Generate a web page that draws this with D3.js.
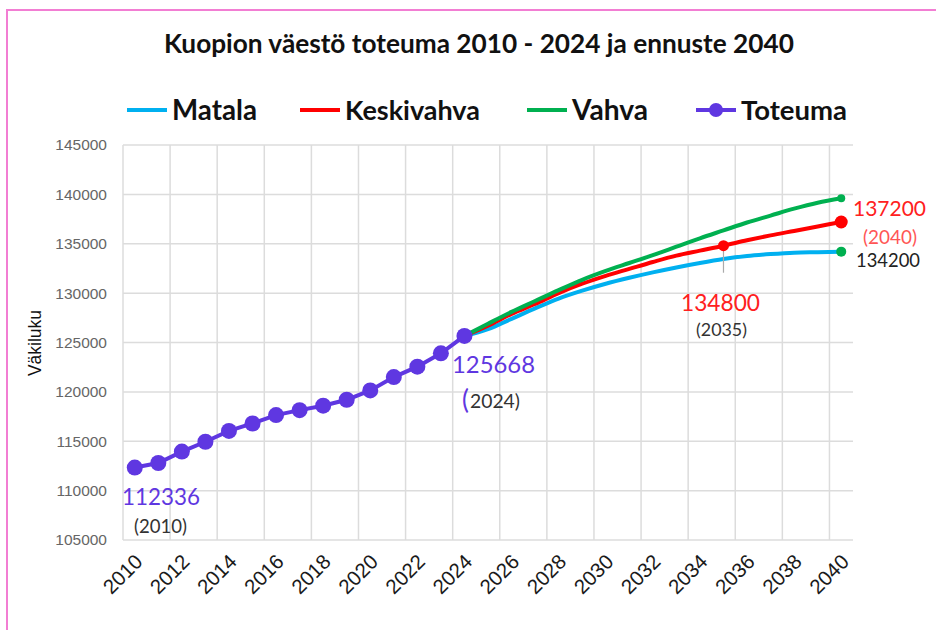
<!DOCTYPE html>
<html>
<head>
<meta charset="utf-8">
<script src="https://cdn.jsdelivr.net/npm/d3@7"></script>
<style>
  body { margin: 0; background: #fff; }
  svg { display: block; }
  text { font-family: "Liberation Sans", Arial, sans-serif; }
  .cal { font-family: Lato, "Open Sans", sans-serif; }
</style>
</head>
<body>
<svg id="chart" width="936" height="630"></svg>
<script>
// categories (Excel style category axis, one band per year)
var years = [2010,2011,2012,2013,2014,2015,2016,2017,2018,2019,2020,2021,2022,2023,2024,
             2025,2026,2027,2028,2029,2030,2031,2032,2033,2034,2035,2036,2037,2038,2039,2040];
var xTickYears = [2010,2012,2014,2016,2018,2020,2022,2024,2026,2028,2030,2032,2034,2036,2038,2040];
var yTicks = [105000,110000,115000,120000,125000,130000,135000,140000,145000];

// toteuma 2010 - 2024
var toteumaYears = [2010,2011,2012,2013,2014,2015,2016,2017,2018,2019,2020,2021,2022,2023,2024];
var toteuma = [112336,112800,113950,114950,116050,116800,117650,118150,118600,119200,120150,121500,122550,123900,125668];

// ennusteet 2024 - 2040
var ennusteYears = [2024,2025,2026,2027,2028,2029,2030,2031,2032,2033,2034,2035,2036,2037,2038,2039,2040];
var matala     = [125668,126350,127400,128450,129450,130250,130950,131550,132100,132600,133050,133450,133750,133950,134100,134150,134200];
var keskivahva = [125668,126700,127900,128900,130000,130950,131750,132450,133150,133800,134300,134800,135350,135850,136300,136750,137200];
var vahva      = [125668,126900,128100,129200,130300,131350,132250,133050,133850,134700,135550,136350,137150,137850,138550,139150,139600];

var colors = {Matala: "#00b0f0", Keskivahva: "#ff0000", Vahva: "#00b050", Toteuma: "#5f37e1"};

var svg = d3.select("#chart");

var x = d3.scaleBand().domain(years).range([123, 853]).padding(0);
var y = d3.scaleLinear().domain([105000, 145000]).range([540, 145]);
var cx = function(yr) { return x(yr) + x.bandwidth() / 2; };

// pink frame
svg.append("path")
  .attr("d", "M7,640V10H940")
  .attr("fill", "none")
  .attr("stroke", "#f27ed3")
  .attr("stroke-width", 2);

// fit a text to a given width by changing its font size
function fit(sel, w) {
  var fs = parseFloat(sel.attr("font-size"));
  var len = sel.node().getComputedTextLength();
  sel.attr("font-size", (fs * w / len).toFixed(2));
  return sel;
}

// title
fit(svg.append("text")
  .attr("class", "cal")
  .attr("x", 479).attr("y", 53)
  .attr("text-anchor", "middle")
  .attr("font-size", 22).attr("font-weight", "bold")
  .attr("fill", "#111")
  .text("Kuopion väestö toteuma 2010 - 2024 ja ennuste 2040"), 630);

// legend
var legendPos = [
  {name: "Matala", x0: 127, tw: 85},
  {name: "Keskivahva", x0: 300, tw: 135},
  {name: "Vahva", x0: 527, tw: 76},
  {name: "Toteuma", x0: 696, tw: 106}
];
legendPos.forEach(function(d) {
  var g = svg.append("g");
  g.append("line")
    .attr("x1", d.x0).attr("x2", d.x0 + 40)
    .attr("y1", 110).attr("y2", 110)
    .attr("stroke", colors[d.name]).attr("stroke-width", 4);
  if (d.name === "Toteuma") {
    g.append("circle").attr("cx", d.x0 + 20).attr("cy", 110).attr("r", 7)
      .attr("fill", colors[d.name]);
  }
  fit(g.append("text")
    .attr("class", "cal")
    .attr("x", d.x0 + 45).attr("y", 120)
    .attr("font-size", 26).attr("font-weight", "bold")
    .attr("fill", "#111")
    .text(d.name), d.tw);
});

// grid
var grid = svg.append("g").attr("stroke", "#dcdcdc").attr("stroke-width", 1.5);
grid.selectAll(".hg").data(yTicks).enter().append("line")
  .attr("x1", 123).attr("x2", 853)
  .attr("y1", function(d) { return y(d); })
  .attr("y2", function(d) { return y(d); });
grid.selectAll(".vg").data(xTickYears).enter().append("line")
  .attr("x1", function(d) { return x(d); })
  .attr("x2", function(d) { return x(d); })
  .attr("y1", 145).attr("y2", 540);

// y axis
var yAxis = svg.append("g")
  .attr("transform", "translate(123,0)")
  .call(d3.axisLeft(y).tickValues(yTicks).tickSize(0).tickPadding(16).tickFormat(d3.format("d")));
yAxis.select(".domain").remove();
yAxis.selectAll("text")
  .attr("font-size", 15.5)
  .attr("font-family", "Liberation Sans, Arial, sans-serif")
  .attr("fill", "#666");

svg.append("text")
  .attr("transform", "translate(41,343) rotate(-90)")
  .attr("text-anchor", "middle")
  .attr("font-size", 17.5)
  .attr("fill", "#111")
  .text("Väkiluku");

// x axis
var xAxis = svg.append("g")
  .attr("transform", "translate(0,540)")
  .call(d3.axisBottom(x).tickValues(xTickYears).tickSize(0).tickPadding(0));
xAxis.select(".domain").remove();
xAxis.selectAll("text")
  .attr("font-size", 20.5)
  .attr("font-family", "Liberation Sans, Arial, sans-serif")
  .attr("fill", "#1a1a1a")
  .attr("text-anchor", "end")
  .attr("dy", null)
  .attr("transform", "translate(9,23) rotate(-45)");

// lines
var line = d3.line()
  .x(function(d) { return cx(d[0]); })
  .y(function(d) { return y(d[1]); });
var smooth = d3.line()
  .x(function(d) { return cx(d[0]); })
  .y(function(d) { return y(d[1]); })
  .curve(d3.curveMonotoneX);

var forecasts = [
  {name: "Matala", values: matala},
  {name: "Keskivahva", values: keskivahva},
  {name: "Vahva", values: vahva}
];
forecasts.forEach(function(s) {
  svg.append("path")
    .datum(ennusteYears.map(function(yr, i) { return [yr, s.values[i]]; }))
    .attr("fill", "none")
    .attr("stroke", colors[s.name])
    .attr("stroke-width", 4)
    .attr("stroke-linejoin", "round")
    .attr("d", smooth);
});

var totData = toteumaYears.map(function(yr, i) { return [yr, toteuma[i]]; });
svg.append("path")
  .datum(totData)
  .attr("fill", "none")
  .attr("stroke", colors.Toteuma)
  .attr("stroke-width", 4)
  .attr("d", line);
svg.selectAll(".tot").data(totData).enter().append("circle")
  .attr("cx", function(d) { return cx(d[0]); })
  .attr("cy", function(d) { return y(d[1]); })
  .attr("r", 8)
  .attr("fill", colors.Toteuma);

// highlighted points
var iEnd = ennusteYears.length - 1;
var i2035 = ennusteYears.indexOf(2035);
svg.append("line")
  .attr("x1", cx(2035)).attr("x2", cx(2035))
  .attr("y1", y(keskivahva[i2035])).attr("y2", y(keskivahva[i2035]) + 27)
  .attr("stroke", "#aaa").attr("stroke-width", 1.2);
svg.append("circle").attr("cx", cx(2035)).attr("cy", y(keskivahva[i2035])).attr("r", 5.5).attr("fill", colors.Keskivahva);
svg.append("circle").attr("cx", cx(2040)).attr("cy", y(vahva[iEnd])).attr("r", 4).attr("fill", colors.Vahva);
svg.append("circle").attr("cx", cx(2040)).attr("cy", y(keskivahva[iEnd])).attr("r", 6.5).attr("fill", colors.Keskivahva);
svg.append("circle").attr("cx", cx(2040)).attr("cy", y(matala[iEnd])).attr("r", 5).attr("fill", colors.Vahva);

// annotations
function note(tx, ty, str, size, color, w) {
  var t = svg.append("text").attr("class", "cal")
    .attr("x", tx).attr("y", ty)
    .attr("font-size", size).attr("fill", color)
    .text(str);
  if (w) fit(t, w);
  return t;
}
note(122, 505, d3.format("d")(toteuma[0]), 24, colors.Toteuma, 78);
note(134, 533, "(2010)", 15, "#333", 53);
note(452, 373, d3.format("d")(toteuma[toteuma.length - 1]), 24, colors.Toteuma, 83);
note(462, 409, "(", 26, colors.Toteuma);
note(470, 408, "2024)", 15, "#333", 50);
note(681, 311, d3.format("d")(keskivahva[i2035]), 24, "#ff2020", 79);
note(696, 336, "(2035)", 15, "#333", 51);
note(853, 216, d3.format("d")(keskivahva[iEnd]), 24, "#ff2020", 73);
note(863, 244, "(2040)", 15, "#ff5555", 54);
note(856, 267, d3.format("d")(matala[iEnd]), 17, "#222", 64);
</script>
</body>
</html>
